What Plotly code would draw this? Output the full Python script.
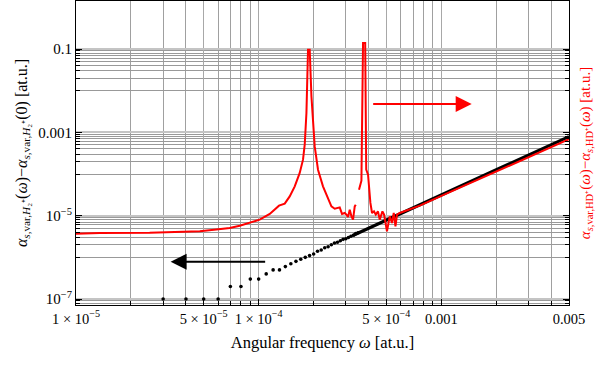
import plotly.graph_objects as go

# ---------------- data ----------------
# black dots, left axis: alpha_H2+(w) - alpha_H2+(0)
omega_black_dots = [3e-5, 4e-5, 5e-5, 6e-5, 7e-5, 8e-5, 9e-5, 1.0e-4,
                    1.1e-4, 1.2e-4, 1.3e-4, 1.4e-4, 1.5e-4, 1.6e-4, 1.7e-4,
                    1.8e-4, 1.9e-4, 2.0e-4, 2.1e-4, 2.2e-4, 2.3e-4, 2.4e-4,
                    2.5e-4, 2.6e-4, 2.7e-4, 2.8e-4, 2.9e-4, 3.0e-4, 3.1e-4,
                    3.2e-4, 3.3e-4, 3.4e-4, 3.5e-4]
alpha_black_dots = [1e-7, 1e-7, 1e-7, 1e-7, 2e-7, 2e-7, 3e-7, 3e-7,
                    4e-7, 5e-7, 5e-7, 6e-7, 7e-7, 8e-7, 9e-7,
                    1.0e-6, 1.1e-6, 1.2e-6, 1.4e-6, 1.5e-6, 1.7e-6, 1.8e-6,
                    2.0e-6, 2.2e-6, 2.3e-6, 2.5e-6, 2.7e-6, 2.8e-6, 3.0e-6,
                    3.2e-6, 3.4e-6, 3.7e-6, 3.9e-6]
# dense part of the black series (dots merge into a solid line)
omega_black_dense = [3.3e-4, 5e-4, 1e-3, 2e-3, 5e-3]
alpha_black_dense = [3.4e-6, 7.9e-6, 3.2e-5, 1.26e-4, 7.9e-4]

# red line, right axis: alpha_var,HD+(w) - alpha_HD+(w)
omega_red = [1.0e-5, 1.35e-5, 2.53e-5, 4.76e-5, 5.87e-5, 6.94e-5, 7.88e-5,
             8.93e-5, 1.013e-4, 1.15e-4, 1.224e-4, 1.292e-4, 1.389e-4,
             1.479e-4, 1.576e-4, 1.678e-4, 1.749e-4, 1.787e-4, 1.826e-4,
             1.863e-4, 1.903e-4, 1.945e-4, 2.027e-4, 2.113e-4, 2.25e-4,
             2.40e-4, 2.502e-4, 2.609e-4, 2.778e-4, 2.86e-4, 2.959e-4,
             3.023e-4, 3.085e-4, 3.152e-4, 3.22e-4, 3.286e-4, 3.357e-4,
             3.40e-4, 3.47e-4,
             3.543e-4, 3.652e-4, 3.727e-4, 3.83e-4, 3.88e-4, 3.97e-4,
             4.09e-4, 4.175e-4, 4.28e-4, 4.375e-4, 4.50e-4, 4.60e-4,
             4.76e-4, 4.86e-4, 5.04e-4, 5.22e-4, 5.37e-4, 5.49e-4, 5.61e-4,
             5.72e-4, 5.92e-4, 7.62e-4, 1.112e-3, 2.089e-3, 5.0e-3]
alpha_red = [3.70e-6, 3.85e-6, 3.91e-6, 4.25e-6, 4.67e-6, 5.07e-6, 5.75e-6,
             6.68e-6, 8.02e-6, 1.10e-5, 1.39e-5, 1.74e-5, 1.94e-5,
             2.90e-5, 5.05e-5, 1.06e-4, 2.21e-4, 5.06e-4, 2.92e-3,
             0.0964, 0.0964, 7.30e-3, 4.60e-4, 1.27e-4, 5.05e-5,
             2.42e-5, 1.67e-5, 1.47e-5, 1.58e-5, 1.10e-5, 1.16e-5,
             1.06e-5, 9.31e-6, 1.39e-5, 9.62e-6, 8.02e-6, 1.67e-5,
             1.84e-5, None,
             4.21e-5, 6.92e-5, 0.140, 0.140, 1.27e-4, 9.64e-5,
             2.02e-5, 1.16e-5, 1.27e-5, 1.06e-5, 1.27e-5, 8.02e-6,
             1.27e-5, 1.06e-5, 4.20e-6, 9.62e-6, 6.68e-6, 1.16e-5, 5.53e-6,
             1.06e-5, 1.16e-5, 1.74e-5, 3.66e-5, 1.27e-4, 6.85e-4]

x_tick_vals = [1e-5, 5e-5, 1e-4, 5e-4, 1e-3, 5e-3]
x_tick_text = ["1 × 10<sup>−5</sup>", "5 × 10<sup>−5</sup>", "1 × 10<sup>−4</sup>",
               "5 × 10<sup>−4</sup>", "0.001", "0.005"]
y_tick_vals = [1e-7, 1e-5, 1e-3, 1e-1]
y_tick_text = ["10<sup>−7</sup>", "10<sup>−5</sup>", "0.001", "0.1"]

# ---------------- styling helpers ----------------
x_minor = [k * 10.0 ** n for n in range(-5, -2) for k in range(1, 10)]
y_minor = [k * 10.0 ** n for n in (-8, -6, -4, -2) for k in range(1, 10)]

FONT = "Liberation Serif, Times New Roman, serif"
x_range = [-5, -2.30103]
y_range = [-7.144, 0.152]

fig = go.Figure()
fig.add_trace(go.Scatter(x=omega_black_dense, y=alpha_black_dense, mode="lines",
                         line=dict(color="black", width=3.2), yaxis="y",
                         showlegend=False, hoverinfo="skip"))
fig.add_trace(go.Scatter(x=omega_black_dots, y=alpha_black_dots, mode="markers",
                         marker=dict(color="black", size=3.6), yaxis="y",
                         showlegend=False))
fig.add_trace(go.Scatter(x=omega_red, y=alpha_red, mode="lines",
                         line=dict(color="#ff0000", width=2), yaxis="y2",
                         connectgaps=False, showlegend=False))

fig.update_layout(
    width=599, height=365,
    margin=dict(l=76, r=30, t=1, b=60, autoexpand=False),
    paper_bgcolor="white", plot_bgcolor="white",
    font=dict(family=FONT, size=14, color="black"),
    xaxis=dict(
        type="log", range=x_range, automargin=False,
        tickmode="array", tickvals=x_tick_vals, ticktext=x_tick_text,
        ticks="inside", ticklen=6, tickcolor="black",
        showgrid=True, gridcolor="#a8a8a8", gridwidth=1,
        minor=dict(tickmode="array", tickvals=x_minor, ticks="inside",
                   ticklen=4, tickcolor="black", showgrid=True,
                   gridcolor="#a0a0a0", gridwidth=1),
        showline=True, linecolor="black", linewidth=1.2, mirror=True,
        zeroline=False,
        title=dict(text="Angular frequency <i>ω</i> [at.u.]",
                   font=dict(size=16.5), standoff=10),
        tickfont=dict(size=14.5),
    ),
    yaxis=dict(
        type="log", range=y_range, automargin=False,
        tickmode="array", tickvals=y_tick_vals, ticktext=y_tick_text,
        ticks="inside", ticklen=6, tickcolor="black",
        showgrid=True, gridcolor="#c4c4c4", gridwidth=2,
        minor=dict(tickmode="array", tickvals=y_minor, ticks="inside",
                   ticklen=4, tickcolor="black", showgrid=True,
                   gridcolor="#999999", gridwidth=1),
        showline=True, linecolor="black", linewidth=1.2, mirror=True,
        zeroline=False,
        title=dict(text="<i>α</i><sub><i>s</i>,var,<i>H</i>₂⁺</sub>(<i>ω</i>)−"
                        "<i>α</i><sub><i>s</i>,var,<i>H</i>₂⁺</sub>(0) [at.u.]",
                   font=dict(size=16), standoff=6),
        tickfont=dict(size=15),
    ),
    yaxis2=dict(
        type="log", range=y_range, overlaying="y", side="right",
        automargin=False,
        tickmode="array", tickvals=y_tick_vals, showticklabels=False,
        ticks="inside", ticklen=6, tickcolor="black",
        minor=dict(tickmode="array", tickvals=y_minor, ticks="inside",
                   ticklen=4, tickcolor="black", showgrid=False),
        showgrid=False, zeroline=False,
        showline=True, linecolor="black", linewidth=1.2,
        title=dict(text="<i>α</i><sub><i>s</i>,var,HD⁺</sub>(<i>ω</i>)−"
                        "<i>α</i><sub><i>s</i>,HD⁺</sub>(<i>ω</i>) [at.u.]",
                   font=dict(size=15, color="#ff0000"), standoff=10),
    ),
    annotations=[
        dict(xref="paper", yref="paper", x=0.8026, y=0.661, ax=-100, ay=0,
             text="", showarrow=True, arrowhead=2, arrowsize=1.6,
             arrowwidth=2, arrowcolor="#ff0000"),
        dict(xref="paper", yref="paper", x=0.192, y=0.1424, ax=96, ay=0,
             text="", showarrow=True, arrowhead=2, arrowsize=1.6,
             arrowwidth=2, arrowcolor="black"),
    ],
)

fig.write_html("out.html",
               config={"displayModeBar": False},
               post_script="document.body.style.margin='0';"
                           "document.body.style.overflow='hidden';")
